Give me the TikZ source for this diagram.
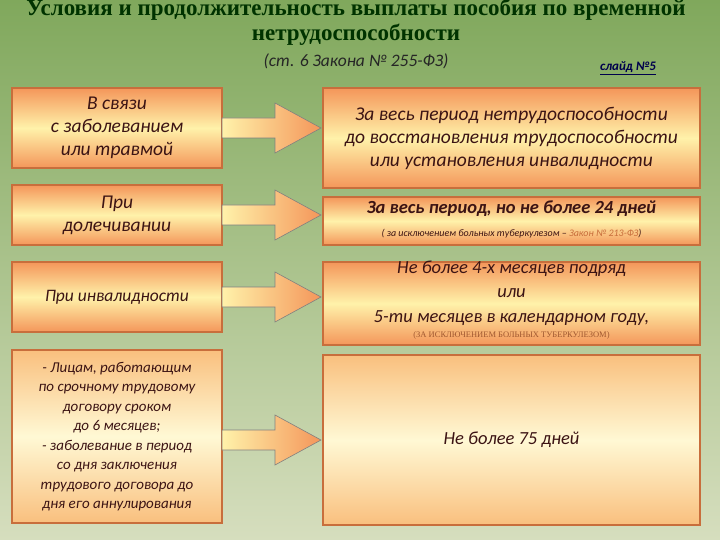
\documentclass[tikz,border=0pt]{standalone}
\usepackage{fontspec}
\setmainfont{Carlito}
\newfontfamily\tnr{Liberation Serif}
\definecolor{bgtop}{RGB}{128,168,92}
\definecolor{bgbot}{RGB}{214,222,190}
\definecolor{boxor}{RGB}{244,150,90}
\definecolor{boxy}{RGB}{255,242,170}
\definecolor{brd}{RGB}{200,110,60}
\definecolor{txt}{RGB}{60,20,20}
\tikzset{
 bx/.style={draw=brd,line width=1.2pt,top color=boxor,bottom color=boxor,middle color=boxy,
   align=center,text=txt,font=\itshape\fontsize{19.5}{23}\selectfont,inner sep=2pt},
 lbx/.style={bx,top color=boxor!55!boxy,bottom color=boxor!55!boxy,middle color=boxy!50!white},
 arr/.style={draw=gray,line width=0.6pt,top color=boxy,bottom color=boxor,shading angle=90}
}
\newcommand{\myarrow}[2]{% name, y
 \coordinate (#1s) at (222,#2);
 \coordinate (#1e) at (321,#2);
 \path[arr] (#1s) ++(0,-10) -- ++(53,0) -- ++(0,-15) -- (#1e) -- ++(-46,25) -- ++(0,-15) -- ++(-53,0) -- cycle;}
\begin{document}
\begin{tikzpicture}[x=1pt,y=-1pt]
\shade[top color=bgtop,bottom color=bgbot] (0,0) rectangle (720,540);
\useasboundingbox (0,0) rectangle (720,540);
\node[font=\tnr\bfseries\fontsize{23}{25}\selectfont,text=black!80!green,align=center] (title) at (356,22)
 {Условия и продолжительность  выплаты  пособия по временной\\нетрудоспособности};
\node[font=\itshape\fontsize{17.5}{19}\selectfont,text=black!85] (sub) at (356,61) {(ст. 6 Закона № 255-ФЗ)};
\node[font=\itshape\bfseries\fontsize{13}{15}\selectfont,text=blue!30!black] (sl) at (628,68) {\underline{слайд №5}};
% left boxes
\node[bx,minimum width=210pt,minimum height=80pt] (l1) at (117,128) {В связи\\с заболеванием\\или травмой};
\node[bx,minimum width=210pt,minimum height=60pt] (l2) at (117,215) {При\\долечивании};
\node[bx,minimum width=210pt,minimum height=70pt,font=\itshape\fontsize{17.5}{20}\selectfont] (l3) at (117,297) {При инвалидности};
\node[lbx,minimum width=210pt,minimum height=173pt,font=\itshape\fontsize{15}{19.5}\selectfont] (l4) at (117,436.5)
 {- Лицам, работающим\\по срочному трудовому\\договору сроком\\до 6 месяцев;\\- заболевание в период\\со дня заключения\\трудового договора до\\дня его аннулирования};
% right boxes
\node[bx,minimum width=377pt,minimum height=100pt] (r1) at (511.5,138) {За весь период нетрудоспособности\\до восстановления трудоспособности\\или установления инвалидности};
\node[bx,minimum width=377pt,minimum height=48pt] (r2) at (511.5,221) {};
\node[font=\itshape\bfseries\fontsize{18.5}{20}\selectfont,text=txt] (r2a) at (511.5,209) {За весь период, но не более 24 дней};
\node[font=\itshape\fontsize{10}{11}\selectfont,text=txt] (r2b) at (511.5,234) {( за исключением  больных туберкулезом -- \textcolor{brd}{Закон № 213-ФЗ})};
\node[bx,minimum width=377pt,minimum height=83pt] (r3) at (511.5,303.5) {};
\node[font=\itshape\fontsize{18.5}{24.5}\selectfont,text=txt,align=center] (r3a) at (511.5,293)
 {Не  более 4-х месяцев подряд\\или\\5-ти месяцев в  календарном году,};
\node[font=\tnr\fontsize{8.5}{9}\selectfont,text=brd!80!black] (r3b) at (511.5,335) {(ЗА ИСКЛЮЧЕНИЕМ  БОЛЬНЫХ ТУБЕРКУЛЕЗОМ)};
\node[lbx,minimum width=377pt,minimum height=170pt,font=\itshape\fontsize{18.5}{20}\selectfont] (r4) at (511.5,440) {Не более 75  дней};
% arrows
\myarrow{a1}{128}
\myarrow{a2}{215}
\myarrow{a3}{297}
\myarrow{a4}{440}
\end{tikzpicture}
\end{document}
